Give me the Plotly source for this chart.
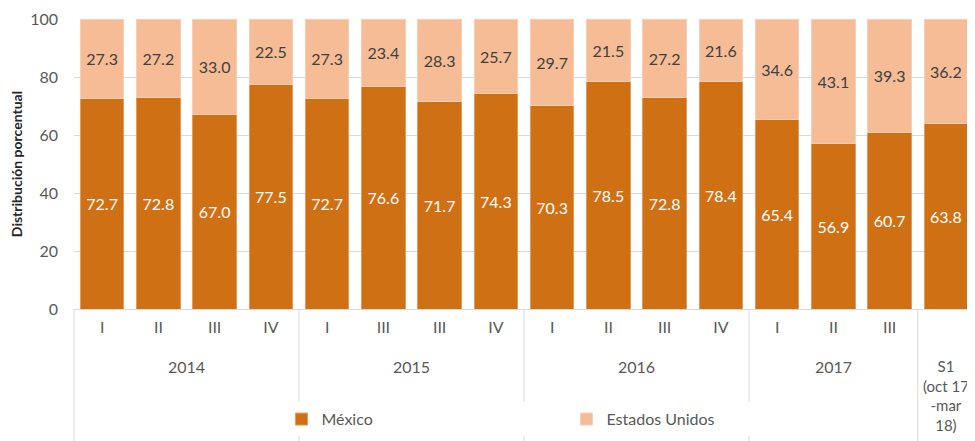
import plotly.graph_objects as go

years = ["2014", "2015", "2016", "2017", "S1<br>(oct 17<br>-mar<br>18)"]
year_counts = [4, 4, 4, 3, 1]
quarters = ["I", "II", "III", "IV",
            "I", "III", "III", "IV",
            "I", "II", "III", "IV",
            "I", "II", "III", ""]
mexico = [72.7, 72.8, 67.0, 77.5, 72.7, 76.6, 71.7, 74.3,
          70.3, 78.5, 72.8, 78.4, 65.4, 56.9, 60.7, 63.8]
eeuu = [27.3, 27.2, 33.0, 22.5, 27.3, 23.4, 28.3, 25.7,
        29.7, 21.5, 27.2, 21.6, 34.6, 43.1, 39.3, 36.2]

# unique category ids (quarter labels repeat)
ids = []
k = 0
for gi, n in enumerate(year_counts):
    for j in range(n):
        ids.append(f"g{gi}-{k}")
        k += 1

FONT = "Lato, Open Sans, sans-serif"
C_MX = "#D07014"
C_US = "#F5BC95"
TXT = "#595959"

fig = go.Figure()
fig.add_trace(go.Bar(
    x=ids, y=mexico, name="México",
    marker=dict(color=C_MX, line=dict(color="#E39A5C", width=1)),
    text=[f"{v:.1f}" for v in mexico], textposition="inside", insidetextanchor="middle",
    textfont=dict(color="white", size=16, family=FONT), texttemplate="%{text}",
    textangle=0,
))
fig.add_trace(go.Bar(
    x=ids, y=eeuu, name="Estados Unidos",
    marker=dict(color=C_US, line=dict(color="#F8CFB3", width=1)),
    text=[f"{v:.1f}" for v in eeuu], textposition="inside", insidetextanchor="middle",
    textfont=dict(color="#404040", size=16, family=FONT), texttemplate="%{text}",
    textangle=0,
))

n = len(ids)
shapes = []
annotations = []
pos = 0
bounds = [0]
for c in year_counts:
    pos += c
    bounds.append(pos)
for b in bounds:
    shapes.append(dict(type="line", xref="paper", yref="paper",
                       x0=b / n, x1=b / n, y0=0, y1=-0.47,
                       line=dict(color="#D9D9D9", width=1)))
for i, (yl, c) in enumerate(zip(years, year_counts)):
    xc = (bounds[i] + c / 2) / n
    annotations.append(dict(text=yl, xref="paper", yref="paper", x=xc, y=-0.16,
                            yanchor="top", xanchor="center", showarrow=False,
                            font=dict(size=15 if "<br>" in yl else 16, color=TXT, family=FONT)))

fig.update_layout(
    width=967, height=433,
    margin=dict(l=66, r=1, t=11, b=132),
    barmode="stack", bargap=0.23,
    plot_bgcolor="white", paper_bgcolor="white",
    font=dict(family=FONT, size=16, color=TXT),
    showlegend=True,
    legend=dict(orientation="h", x=0.2305, y=-0.38, xanchor="left", yanchor="middle",
                traceorder="normal",
                entrywidth=240, entrywidthmode="pixels",
                font=dict(size=16, color=TXT, family=FONT)),
    shapes=shapes, annotations=annotations,
)
fig.update_xaxes(type="category", tickmode="array", tickvals=ids, ticktext=quarters,
                 showline=True, linecolor="#D9D9D9", linewidth=1, ticks="",
                 tickfont=dict(size=16, color=TXT, family=FONT), ticklabelstandoff=4,
                 automargin=False)
fig.update_yaxes(range=[0, 100], dtick=20, showgrid=True, gridcolor="#D9D9D9",
                 zeroline=False, showline=False, automargin=False,
                 ticklabeloverflow="allow",
                 tickfont=dict(size=16, color=TXT, family=FONT), ticklabelstandoff=15,
                 title=dict(text="<b>Distribución porcentual</b>", standoff=12,
                            font=dict(size=14, color="#262626", family=FONT)))

fig.write_html("out.html")
